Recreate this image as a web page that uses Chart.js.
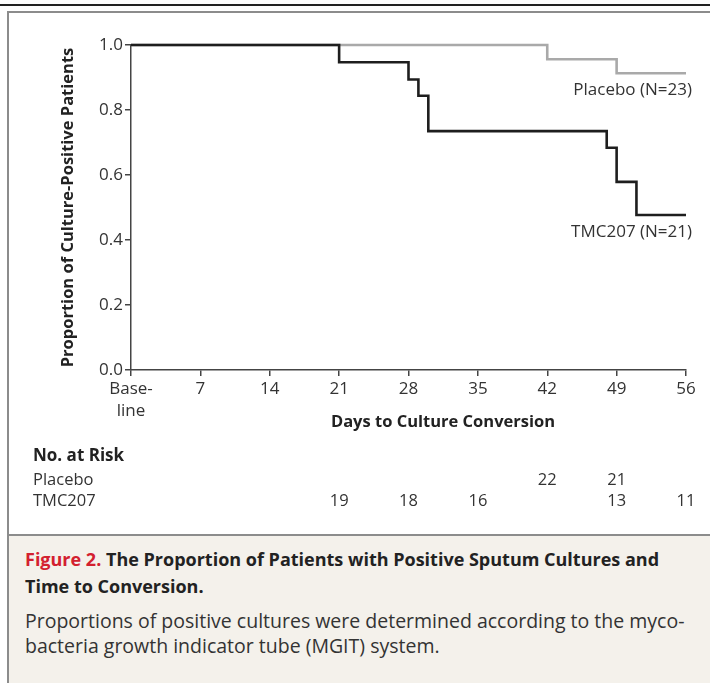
<!DOCTYPE html>
<html>
<head>
<meta charset="utf-8">
<script src="https://cdn.jsdelivr.net/npm/chart.js@4.4.1/dist/chart.umd.min.js"></script>
<style>
  body{margin:0;width:710px;height:683px;background:#fff;position:relative;overflow:hidden;font-family:"Open Sans",sans-serif;}
  #topline{position:absolute;left:0;top:4px;width:710px;height:2px;background:#222;}
  #frame{position:absolute;left:7px;top:11px;width:720px;height:671px;border-left:2px solid #8c8c8c;border-top:2px solid #8c8c8c;border-bottom:2px solid #8c8c8c;}
  #chartCanvas{position:absolute;left:9px;top:13px;}
  #caption{position:absolute;left:9px;top:534px;width:710px;height:147px;background:#f4f1eb;border-top:2px solid #8c8c8c;}
  #caption .t{position:absolute;left:16px;top:10px;width:660px;font-weight:700;font-size:18px;line-height:27px;color:#222;}
  #caption .t span{color:#d3202f;}
  #caption .b{position:absolute;left:16px;top:72px;width:690px;font-size:19.5px;line-height:25px;color:#333;}
</style>
</head>
<body>
<div id="topline"></div>
<div id="frame"></div>
<canvas id="chartCanvas" width="701" height="521"></canvas>
<div id="caption">
  <div class="t"><span>Figure 2.</span> The Proportion of Patients with Positive Sputum Cultures and Time to Conversion.</div>
  <div class="b">Proportions of positive cultures were determined according to the myco-<br>bacteria growth indicator tube (MGIT) system.</div>
</div>
<script>
//data
const tmcDays=[0, 21, 28, 29, 30, 48, 49, 51, 56];
const tmcProp=[1.0, 0.947, 0.894, 0.844, 0.735, 0.684, 0.579, 0.477, 0.477];
const placeboDays=[0, 42, 49, 56];
const placeboProp=[1.0, 0.956, 0.913, 0.913];

const riskDays=[21, 28, 35, 42, 49, 56];
const placeboRisk=[null, null, null, 22, 21, null];
const tmcRisk=[19, 18, 16, null, 13, 11];

const textColor='#333';
const fontFam='"Open Sans", sans-serif';

//extra text: series labels, x title, no. at risk
const extrasPlugin={
    id:'extras',
    afterDraw(chart){
        const ctx=chart.ctx;
        const x=chart.scales.x;
        const y=chart.scales.y;
        ctx.save();
        ctx.fillStyle=textColor;
        ctx.textBaseline='middle';

        //series labels
        ctx.font='17px '+fontFam;
        ctx.textAlign='right';
        ctx.fillText('Placebo (N=23)', x.getPixelForValue(56)+6, y.getPixelForValue(0.862));
        ctx.fillText('TMC207 (N=21)', x.getPixelForValue(56)+6, y.getPixelForValue(0.423));

        //x axis title
        ctx.fillStyle='#222';
        ctx.font='bold 16.5px '+fontFam;
        ctx.textAlign='center';
        ctx.fillText('Days to Culture Conversion', 434, 409);

        //no. at risk
        ctx.textAlign='left';
        ctx.font='bold 17px '+fontFam;
        ctx.fillText('No. at Risk', 24, 443);
        ctx.fillStyle=textColor;
        ctx.font='16.5px '+fontFam;
        ctx.fillText('Placebo', 24, 467);
        ctx.fillText('TMC207', 24, 488);
        ctx.textAlign='center';
        riskDays.forEach((d,i)=>{
            const px=x.getPixelForValue(d);
            if(placeboRisk[i]!==null) ctx.fillText(placeboRisk[i], px, 467);
            if(tmcRisk[i]!==null) ctx.fillText(tmcRisk[i], px, 488);
        });
        ctx.restore();
    }
};

const config={
    type:'line',
    data:{
        datasets:[
            {
                label:'TMC207',
                data:tmcDays.map((d,i)=>({x:d,y:tmcProp[i]})),
                borderColor:'#1e1e1e',
                borderWidth:2.6,
                stepped:'before',
                pointRadius:0,
                clip:false
            },
            {
                label:'Placebo',
                data:placeboDays.map((d,i)=>({x:d,y:placeboProp[i]})),
                borderColor:'#a9a9a9',
                borderWidth:2.6,
                stepped:'before',
                pointRadius:0,
                clip:false
            }
        ]
    },
    options:{
        responsive:false,
        animation:false,
        layout:{padding:{left:45,top:32,right:24,bottom:0}},
        plugins:{legend:{display:false},tooltip:{enabled:false}},
        scales:{
            x:{
                type:'linear',
                min:0,max:56,
                afterFit(scale){scale.height=164;},
                border:{display:true,color:'#444',width:1.5},
                grid:{display:true,drawOnChartArea:false,drawTicks:true,tickLength:6,color:'#444',lineWidth:1.5},
                ticks:{
                    stepSize:7,
                    autoSkip:false,
                    maxRotation:0,
                    padding:3,
                    color:textColor,
                    font:{family:fontFam,size:17,lineHeight:1.25},
                    callback:(v)=>v===0?['Base-','line']:v
                }
            },
            y:{
                min:0,max:1,
                afterFit(scale){scale.width=77;},
                border:{display:true,color:'#444',width:1.5},
                grid:{display:true,drawOnChartArea:false,drawTicks:true,tickLength:6,color:'#444',lineWidth:1.5},
                ticks:{
                    stepSize:0.2,
                    padding:2,
                    color:textColor,
                    font:{family:fontFam,size:17},
                    callback:(v)=>v.toFixed(1)
                },
                title:{
                    display:true,
                    text:'Proportion of Culture-Positive Patients',
                    color:'#222',
                    font:{family:fontFam,size:16.5,weight:'bold'},
                    padding:{top:4,bottom:0}
                }
            }
        }
    },
    plugins:[extrasPlugin]
};

var myChart=new Chart(document.getElementById('chartCanvas'),config);
</script>
</body>
</html>
